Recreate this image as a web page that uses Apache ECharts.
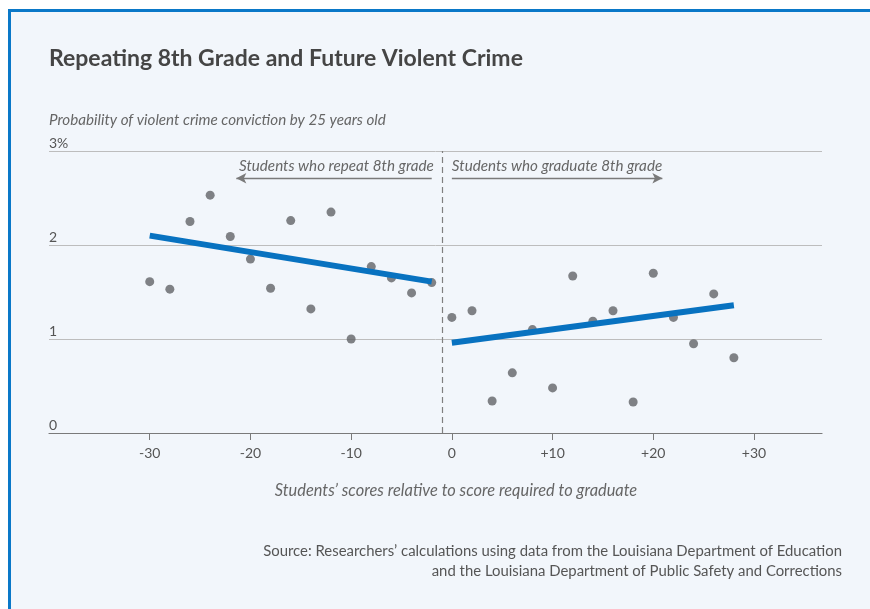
<!DOCTYPE html>
<html>
<head>
<meta charset="utf-8">
<script src="https://cdn.jsdelivr.net/npm/echarts@6/dist/echarts.min.js"></script>
<style>
html,body{margin:0;padding:0;background:#fff;width:870px;height:609px;overflow:hidden;}
#box{position:absolute;left:8px;top:9px;width:900px;height:700px;border-left:3px solid #0a78c8;border-top:3px solid #0a78c8;background:#f2f6fb;}
#chart{position:absolute;left:0;top:0;width:870px;height:609px;}
</style>
</head>
<body>
<div id="box"></div>
<div id="chart"></div>
<script>
// Data
const repeatX = [-30,-28,-26,-24,-22,-20,-18,-16,-14,-12,-10,-8,-6,-4,-2];
const repeatY = [1.61,1.53,2.25,2.53,2.09,1.85,1.54,2.26,1.32,2.35,1.00,1.77,1.65,1.49,1.60];
const gradX = [0,2,4,6,8,10,12,14,16,18,20,22,24,26,28];
const gradY = [1.23,1.30,0.34,0.64,1.10,0.48,1.67,1.19,1.30,0.33,1.70,1.23,0.95,1.48,0.80];
const repeatFitX = [-30,-2];
const repeatFitY = [2.10,1.61];
const gradFitX = [0,28];
const gradFitY = [0.96,1.36];
const xTicks = [-30,-20,-10,0,10,20,30];
const cutoffX = -1;
const labels = {
  title: 'Repeating 8th Grade and Future Violent Crime',
  yName: 'Probability of violent crime conviction by 25 years old',
  xName: 'Students\u2019 scores relative to score required to graduate',
  repeat: 'Students who repeat 8th grade',
  grad: 'Students who graduate 8th grade',
  source1: 'Source: Researchers\u2019 calculations using data from the Louisiana Department of Education',
  source2: 'and the Louisiana Department of Public Safety and Corrections'
};
const arrowRepeat = [[-2,2.71],[-21.4,2.71]];
const arrowGrad = [[0,2.71],[20.9,2.71]];

const FONT = 'Lato, "Noto Sans", sans-serif';
const zip = (a,b)=>a.map((v,i)=>[v,b[i]]);
const chart = echarts.init(document.getElementById('chart'), null, {renderer:'canvas'});
const option = {
  backgroundColor: 'transparent',
  animation: false,
  textStyle: {fontFamily: FONT},
  title: {
    text: labels.title, left: 44, top: 42,
    textStyle: {fontFamily: FONT, fontSize: 23, fontWeight: 'bold', color: '#454545'}
  },
  grid: {left: 49, right: 48, top: 151, bottom: 176},
  xAxis: {
    type: 'value', min: -40, max: 36.75, interval: 10,
    axisLine: {show: true, lineStyle: {color: '#7a7a7a', width: 1.2}},
    axisTick: {show: true, customValues: xTicks, length: 7, lineStyle: {color: '#7a7a7a'}},
    axisLabel: {customValues: xTicks, margin: 13, fontSize: 14, color: '#555', fontFamily: FONT,
      formatter: v => v > 0 ? '+' + v : String(v)},
    splitLine: {show: false}
  },
  yAxis: {
    type: 'value', min: 0, max: 3, interval: 1,
    axisLine: {show: false}, axisTick: {show: false},
    axisLabel: {inside: true, margin: 0, verticalAlign: 'bottom', padding: [0,0,1,0],
      fontSize: 14, color: '#555', fontFamily: FONT,
      formatter: v => v === 3 ? '3%' : String(v)},
    splitLine: {show: true, lineStyle: {color: '#bdbdbd', width: 1}}
  },
  series: [
    {type: 'scatter', data: zip(repeatX, repeatY), symbolSize: 9, itemStyle: {color: '#626468'}, z: 3,
      markLine: {silent: true, symbol: ['none','none'], label: {show: false},
        lineStyle: {color: '#808080', type: [6,4], width: 1.2},
        data: [{xAxis: cutoffX}]}},
    {type: 'scatter', data: zip(gradX, gradY), symbolSize: 9, itemStyle: {color: '#626468'}, z: 3,
      markLine: {silent: true, symbol: ['none','arrow'], symbolSize: [8,10], label: {show: false},
        lineStyle: {color: '#7a7a7a', type: 'solid', width: 1.3},
        data: [
          [{coord: arrowRepeat[0]}, {coord: arrowRepeat[1]}],
          [{coord: arrowGrad[0]}, {coord: arrowGrad[1]}]
        ]}},
    {type: 'line', data: zip(repeatFitX, repeatFitY), symbol: 'none', lineStyle: {color: '#0872c0', width: 6}, z: 5},
    {type: 'line', data: zip(gradFitX, gradFitY), symbol: 'none', lineStyle: {color: '#0872c0', width: 6}, z: 5}
  ]
};
chart.setOption(option);

const p1 = chart.convertToPixel({gridIndex: 0}, [-2, 2.84]);
const p2 = chart.convertToPixel({gridIndex: 0}, [0, 2.84]);
const txt = {fontFamily: FONT, fontStyle: 'italic', fill: '#666'};
chart.setOption({
  graphic: [
    {type: 'text', left: 49, top: 113, style: Object.assign({text: labels.yName, fontSize: 15.2}, txt)},
    {type: 'text', x: p1[0] + 2, y: p1[1], style: Object.assign({text: labels.repeat, fontSize: 15.2, align: 'right', verticalAlign: 'middle'}, txt)},
    {type: 'text', x: p2[0], y: p2[1], style: Object.assign({text: labels.grad, fontSize: 15.2, align: 'left', verticalAlign: 'middle'}, txt)},
    {type: 'text', x: 456, y: 491, style: Object.assign({text: labels.xName, fontSize: 16.4, align: 'center', verticalAlign: 'middle'}, txt)},
    {type: 'text', x: 842, y: 551, style: {text: labels.source1, align: 'right', verticalAlign: 'middle', fontFamily: FONT, fontSize: 14.9, fill: '#555'}},
    {type: 'text', x: 842, y: 571, style: {text: labels.source2, align: 'right', verticalAlign: 'middle', fontFamily: FONT, fontSize: 14.9, fill: '#555'}}
  ]
});
</script>
</body>
</html>
